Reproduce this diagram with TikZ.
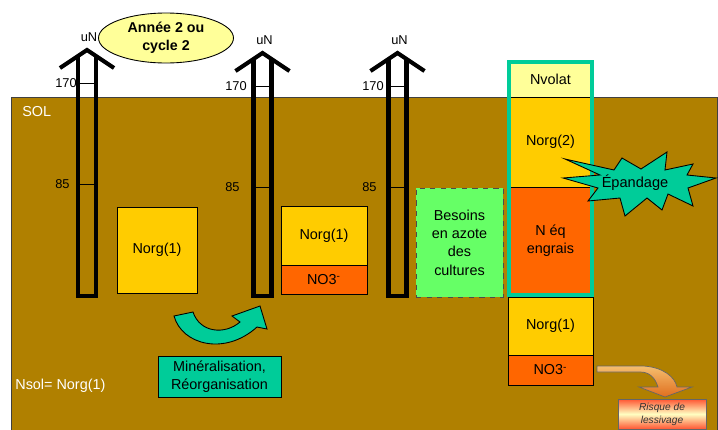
\documentclass[tikz,border=0pt]{standalone}
\usepackage{fontspec}
\setmainfont{Liberation Sans}
\usetikzlibrary{shapes.geometric}

\definecolor{soil}{RGB}{176,128,0}
\definecolor{norgyellow}{RGB}{255,204,0}
\definecolor{nitrorange}{RGB}{255,102,0}
\definecolor{paleyellow}{RGB}{255,255,153}
\definecolor{needgreen}{RGB}{102,255,102}
\definecolor{teal}{RGB}{0,204,153}
\definecolor{leachdark}{RGB}{224,110,30}
\definecolor{leachlight}{RGB}{245,190,110}
\definecolor{riskred}{RGB}{255,85,50}

\begin{document}
\begin{tikzpicture}[
    x=0.02cm, y=-0.02cm,
    box/.style={
        draw=black, line width=0.5pt, inner sep=0pt, align=center,
        font=\fontsize{8.2}{10.4}\selectfont
    },
    norg/.style={box, fill=norgyellow},
    nitrate/.style={box, fill=nitrorange},
    gauge/.style={line width=2.3pt, line join=miter},
    tick/.style={line width=0.5pt},
    scalelbl/.style={inner sep=0pt, font=\fontsize{7.3}{8}\selectfont},
    whitelbl/.style={inner sep=0pt, text=white, font=\fontsize{8.2}{10}\selectfont},
    frame/.style={draw=teal, line width=2.3pt},
]

\useasboundingbox (0,0) rectangle (718,430);

% soil
\draw[fill=soil, draw=black!75, line width=0.5pt] (11,97) rectangle (717,433);
\node[whitelbl, anchor=west] (sol) at (22,112) {SOL};
\node[whitelbl, anchor=west] (nsol) at (15,386) {Nsol= Norg(1)};

% gauges: centre x / roof top y / label x
\foreach \cx/\ay/\lx [count=\i] in {87/50/55, 262.5/53/225, 397.5/53/362} {
    \draw[tick] (\cx-9,\ay+33) -- (\cx+9,\ay+33);
    \draw[tick] (\cx-9,\ay+134) -- (\cx+9,\ay+134);
    \draw[gauge] (\cx-9,\ay+6) -- (\cx-9,296) -- (\cx+9,296) -- (\cx+9,\ay+6);
    \draw[gauge] (\cx-27,\ay+18) -- (\cx,\ay) -- (\cx+27,\ay+18);
    \node[scalelbl] (un-\i) at (\cx+2,\ay-13) {uN};
    \node[scalelbl, anchor=west] (t170-\i) at (\lx,\ay+33) {170};
    \node[scalelbl, anchor=west] (t85-\i) at (\lx,\ay+134) {85};
}

\node[ellipse, draw=black, line width=0.5pt, fill=paleyellow,
      minimum width=2.7cm, minimum height=1.0cm, inner sep=0pt, align=center,
      font=\bfseries\fontsize{8.1}{10.3}\selectfont]
      (annee) at (166,38) {Année 2 ou\\cycle 2};

% cycle 1
\node[norg, minimum width=1.6cm, minimum height=1.72cm] (norgA) at (157,250) {Norg(1)};

% after mineralisation
\node[norg, minimum width=1.72cm, minimum height=1.18cm] (norgB) at (324,235.5) {Norg(1)};
\node[nitrate, minimum width=1.72cm, minimum height=0.58cm] (no3B) at (324,279.5) {NO3\textsuperscript{-}};

\fill[teal, draw=black, line width=0.5pt]
    (174,316) .. controls (182,345) and (225,356) .. (257,327)
    -- (267,329) -- (260,306) -- (232,316) -- (240,322)
    .. controls (225,335) and (200,333) .. (193,312) -- cycle;
\node[box, fill=teal, minimum width=2.46cm, minimum height=0.82cm]
    (mineral) at (219.5,376.5) {Minéralisation,\\Réorganisation};

% needs
\node[box, dashed, fill=needgreen, draw=black!70, minimum width=1.74cm, minimum height=2.18cm]
    (besoins) at (459.5,242.5) {Besoins\\en azote\\des\\cultures};

% spreading
\node[box, draw=none, fill=paleyellow, minimum width=1.66cm, minimum height=0.7cm] (nvolat) at (550.5,79.5) {Nvolat};
\node[norg, minimum width=1.66cm, minimum height=1.8cm] (norgC) at (550.5,142) {Norg(2)};
\node[nitrate, minimum width=1.66cm, minimum height=2.16cm] (neq) at (550.5,241) {N éq\\engrais};
\draw[frame] (nvolat.north west) rectangle (neq.south east);

\node[norg, minimum width=1.7cm, minimum height=1.16cm] (norgD) at (550.5,326) {Norg(1)};
\node[nitrate, minimum width=1.7cm, minimum height=0.6cm] (no3D) at (550.5,370) {NO3\textsuperscript{-}};

\draw[fill=teal, draw=black, line width=0.5pt]
    (565,159) -- (614,170) -- (622,158) -- (641,169) -- (667,152) -- (665,170)
    -- (693,164) -- (687,175) -- (716,178) -- (688,188) -- (693,206) -- (668,194)
    -- (662,210) -- (647,198) -- (625,216) -- (620,198) -- (588,201) -- (598,188)
    -- (563,178) -- (600,175) -- cycle;
\node[inner sep=0pt, font=\fontsize{8.3}{10}\selectfont] (epandage) at (635,183) {Épandage};

% leaching
\draw[top color=leachlight, bottom color=leachdark, draw=black!60, line width=0.4pt]
    (597,366) -- (643,366) .. controls (663,367) and (675,377) .. (677,387)
    -- (692,387) -- (665,397) -- (639,387) -- (658,387)
    .. controls (655,378) and (650,372) .. (640,372) -- (597,372) -- cycle;
\node[box, draw=black!60, top color=riskred, bottom color=riskred, middle color=paleyellow!60,
      minimum width=1.76cm, minimum height=0.6cm, text=black!80,
      font=\itshape\fontsize{5.8}{7.4}\selectfont]
    (risque) at (662,414) {Risque de\\lessivage};

\end{tikzpicture}
\end{document}
